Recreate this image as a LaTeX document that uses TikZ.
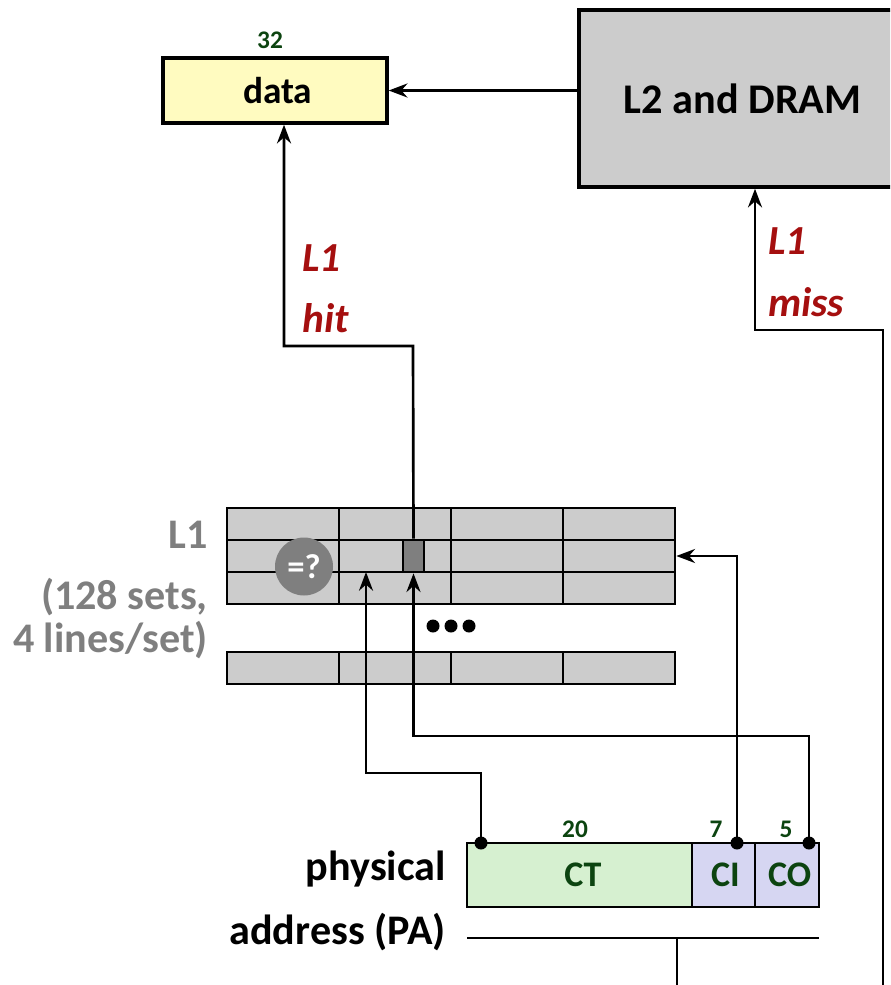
\documentclass[tikz,border=0pt]{standalone}
\usepackage{fontspec}
\setmainfont{Carlito}
\usetikzlibrary{arrows.meta,calc}
\definecolor{datayel}{HTML}{FFFBC0}
\definecolor{cachegray}{HTML}{CCCCCC}
\definecolor{midgray}{HTML}{7F7F7F}
\definecolor{ctgreen}{HTML}{D6F0D0}
\definecolor{cilav}{HTML}{D6D6F2}
\definecolor{darkgrn}{HTML}{0C4410}
\definecolor{hitred}{HTML}{A50F0F}
\def\pxu{0.75pt}
\tikzset{
  box/.style={draw=black, line width=2.6pt, inner sep=0pt, font=\fontsize{28}{32}\selectfont\bfseries},
  cacherow/.style={draw=black, fill=cachegray, line width=2pt, inner sep=0pt, minimum width=448*\pxu, minimum height=32*\pxu},
  cacheline/.style={line width=2pt},
  conn/.style={line width=2pt},
  arr/.style={line width=2pt, -{Stealth[length=14pt,width=10.5pt]}},
  bits/.style={font=\fontsize{19}{22}\selectfont\bfseries, text=darkgrn},
  field/.style={draw=black, line width=2.2pt, inner sep=0pt, minimum height=64*\pxu, font=\fontsize{27}{30}\selectfont\bfseries, text=darkgrn},
  biglbl/.style={font=\fontsize{31.6}{36}\selectfont\bfseries, inner sep=0pt},
  redlbl/.style={font=\fontsize{31}{36}\selectfont\bfseries\itshape, text=hitred, inner sep=0pt, anchor=west},
  graylbl/.style={font=\fontsize{31.6}{36}\selectfont\bfseries, text=midgray, inner sep=0pt, anchor=east},
  jdot/.style={circle, fill=black, inner sep=0pt, minimum size=13*\pxu},
  sdot/.style={circle, fill=black, inner sep=0pt, minimum size=13*\pxu}
}
\begin{document}
\begin{tikzpicture}[x=0.75pt,y=-0.75pt]
\useasboundingbox (0,0) rectangle (890,985);
\clip (0,0) rectangle (890,985);

% data and L2
\node[box, fill=datayel, minimum width=224*\pxu, minimum height=65*\pxu] (data) at (275,90.5) {\hspace*{4pt}data};
\node[bits] (b32) at (270,40) {32};
\node[box, fill=cachegray, minimum width=314*\pxu, minimum height=177*\pxu] (L2) at (736,98.5) {\fontsize{31.7}{36}\selectfont\hspace*{10pt}L2 and DRAM};
\draw[arr] (L2.west |- data.east) -- (data.east);

% cache
\node[cacherow] (r1) at (451,524) {};
\node[cacherow] (r2) at (451,556) {};
\node[cacherow] (r3) at (451,588) {};
\node[cacherow] (r4) at (451,668) {};
\foreach \x in {339,451,563}{
  \draw[cacheline] (\x,508) -- (\x,604);
  \draw[cacheline] (\x,652) -- (\x,684);
}
\node[draw=black, fill=midgray, line width=2pt, inner sep=0pt, minimum width=21*\pxu, minimum height=32*\pxu] (hl) at (413.5,556) {};
\node[circle, fill=midgray, inner sep=0pt, minimum size=58*\pxu, text=white, font=\fontsize{26}{30}\selectfont\bfseries] (eq) at (304,566.5) {=?};
\foreach \x/\n in {433/d1,451/d2,469/d3}{
  \node[sdot] (\n) at (\x,626) {};
}

% L1 labels
\node[graylbl] (l1a) at (208,535) {L1};
\node[graylbl] (l1b) at (208,597) {(128 sets,};
\node[graylbl] (l1c) at (208,640) {4 lines/set)};

% hit / miss labels
\node[redlbl] (hitA) at (302,258) {L1};
\node[redlbl] (hitB) at (302,318) {hit};
\node[redlbl] (missA) at (768,241) {L1};
\node[redlbl] (missB) at (768,302) {miss};

% physical address
\node[field, fill=ctgreen, minimum width=225*\pxu] (CT) at (579.5,875) {\hspace*{5pt}CT};
\node[field, fill=cilav, minimum width=63*\pxu] (CI) at (723.5,875) {\hspace*{3pt}CI};
\node[field, fill=cilav, minimum width=64*\pxu] (CO) at (787,875) {\hspace*{4pt}CO};
\node[bits] (b20) at (575,829) {20};
\node[bits] (b7) at (716,829) {7};
\node[bits] (b5) at (786,829) {5};
\node[biglbl, anchor=east] (phys) at (446,869) {physical};
\node[biglbl, anchor=east] (addr) at (446,932) {address (PA)};

\node[jdot] (jct) at (481,843) {};
\node[jdot] (jci) at (737,843) {};
\node[jdot] (jco) at (809,843) {};
\coordinate (ctin) at (366,572);

\coordinate (pa1) at (467,938);
\coordinate (pa2) at (819,938);
\coordinate (pab) at (677,990);
\coordinate (rb) at (883,990);
\draw[conn] (pa1) -- (pa2);
\draw[conn] (pab) -- (pab |- pa1);

% connectors
\draw[arr] (jct.center) -- (481,773) -| (ctin);
\draw[arr] (jco.center) -- (809,736) -| (hl.south);
\draw[arr] (jci.center) |- (r2.east);
\draw[arr] (hl.north) -- (413,346) -| ([xshift=9*\pxu]data.south);
\draw[arr] (rb) -- (883,330) -| ([xshift=19*\pxu]L2.south);
\end{tikzpicture}
\end{document}
